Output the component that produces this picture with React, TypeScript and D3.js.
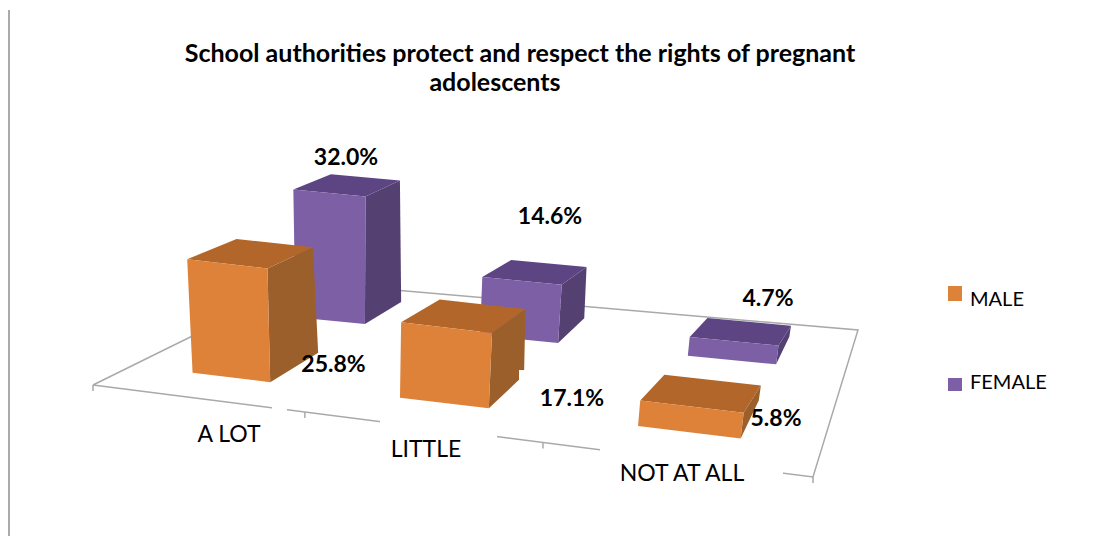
import React from "react";
import * as d3 from "d3";

const categories = ["A LOT", "LITTLE", "NOT AT ALL"];
const seriesNames = ["MALE", "FEMALE"];
const maleValues = [25.8, 17.1, 5.8];
const femaleValues = [32.0, 14.6, 4.7];
const titleLines = [
  { text: "School authorities protect and respect the rights of pregnant", x: 520, y: 62 },
  { text: "adolescents", x: 495, y: 91 },
];

const font = "Lato, 'Open Sans', sans-serif";
type Pt = [number, number];

// Corners of the chart floor: front-left, front-right, back-right, back-left.
const floor: Pt[] = [[93, 385], [813, 477], [858, 330], [302, 282]];

function makeProjection(q: Pt[]) {
  const [[x0, y0], [x1, y1], [x2, y2], [x3, y3]] = q;
  const dx1 = x1 - x2, dx2 = x3 - x2, sx = x0 - x1 + x2 - x3;
  const dy1 = y1 - y2, dy2 = y3 - y2, sy = y0 - y1 + y2 - y3;
  const det = dx1 * dy2 - dx2 * dy1;
  const g = (sx * dy2 - dx2 * sy) / det;
  const h = (dx1 * sy - sx * dy1) / det;
  const a = x1 - x0 + g * x1, b = x3 - x0 + h * x3;
  const d = y1 - y0 + g * y1, e = y3 - y0 + h * y3;
  return (u: number, v: number): Pt => {
    const w = g * u + h * v + 1;
    return [(a * u + b * v + x0) / w, (d * u + e * v + y0) / w];
  };
}

const project = makeProjection(floor);
const uScale = d3.scaleBand<string>().domain(categories).range([0.004, 1.004]).paddingInner(0.61).paddingOuter(0.305);
const vScale = d3.scaleBand<string>().domain(seriesNames).range([0.0175, 1.0175]).paddingInner(0.53).paddingOuter(0.265);
const heightScale = d3.scaleLinear().domain([0, 32]).range([0, 133]);
const depthFactor: Record<string, number> = { MALE: 1.06, FEMALE: 0.96 };
// The lid of a bar is seen at a flatter angle than its footprint.
const lidFlatten = 0.72;
const lidNarrow = 0.95;
const polygon = d3.line<Pt>().curve(d3.curveLinearClosed);

const faceColors: Record<string, { front: string; top: string; side: string }> = {
  MALE: { front: "#dd8239", top: "#b3662a", side: "#9a5f2a" },
  FEMALE: { front: "#7c5fa4", top: "#5d4583", side: "#544172" },
};

function raise([x, y]: Pt, h: number): Pt {
  return [x + (x - 350) * 0.0003 * h, y - h];
}

function lidCorner(frontBase: Pt, backBase: Pt, frontTop: Pt): Pt {
  return [
    frontTop[0] + (backBase[0] - frontBase[0]) * lidNarrow,
    frontTop[1] + (backBase[1] - frontBase[1]) * lidFlatten,
  ];
}

function Bar({ cat, series, value }: { cat: string; series: string; value: number }) {
  const u0 = uScale(cat)!, u1 = u0 + uScale.bandwidth();
  const v0 = vScale(series)!, v1 = v0 + vScale.bandwidth();
  const h = heightScale(value) * depthFactor[series];
  const fl = project(u0, v0), fr = project(u1, v0), br = project(u1, v1), bl = project(u0, v1);
  const tfl = raise(fl, h), tfr = raise(fr, h);
  const tbr = lidCorner(fr, br, tfr), tbl = lidCorner(fl, bl, tfl);
  const c = faceColors[series];
  return (
    <g>
      <path d={polygon([fr, br, tbr, tfr])!} fill={c.side} />
      <path d={polygon([tfl, tfr, tbr, tbl])!} fill={c.top} />
      <path d={polygon([fl, fr, tfr, tfl])!} fill={c.front} />
    </g>
  );
}

const pct = (v: number) => d3.format(".1f")(v) + "%";

const valueLabels: { text: string; x: number; y: number }[] = [
  { text: pct(femaleValues[0]), x: 346, y: 165 },
  { text: pct(maleValues[0]), x: 333.5, y: 372 },
  { text: pct(femaleValues[1]), x: 550, y: 224 },
  { text: pct(maleValues[1]), x: 572, y: 406 },
  { text: pct(femaleValues[2]), x: 768, y: 306 },
  { text: pct(maleValues[2]), x: 776, y: 426 },
];

const axisLabels = [
  { text: categories[0], x: 229, y: 442 },
  { text: categories[1], x: 426, y: 457 },
  { text: categories[2], x: 682, y: 481 },
];

// White label boxes that break the floor edge and clip the neighbouring bar.
const labelBoxes = [
  { x: 272, y: 400, width: 15, height: 30 },
  { x: 380, y: 412, width: 117, height: 50 },
  { x: 519, y: 370, width: 90, height: 45 },
  { x: 600, y: 445, width: 183, height: 50 },
];

const legendItems = [
  { name: seriesNames[0], y: 286, size: 15, color: "#dd8239", textY: 306 },
  { name: seriesNames[1], y: 378, size: 13, color: "#7c5fa4", textY: 389 },
];

const axisColor = "#a9a9a9";
const frontTicks = [0, 0.342, 0.675, 1];

export default function App() {
  const ticks = frontTicks.map((u) => project(u, 0));
  return (
    <svg width={1101} height={536} style={{ position: "absolute", left: 0, top: 0, background: "#fff" }} fontFamily={font}>
      <defs>
        <filter id="soft" x="-5%" y="-5%" width="110%" height="110%">
          <feGaussianBlur stdDeviation="0.7" />
        </filter>
      </defs>
      <line x1={9} y1={10} x2={9} y2={536} stroke="#aaa" strokeWidth={2} />

      <g fill="none" stroke={axisColor} strokeWidth={1.5}>
        <path d={d3.line()([project(0, 0), project(0, 1), project(1, 1), project(1, 0), project(0, 0)])!} />
        {ticks.map(([x, y], i) => (
          <line key={i} x1={x} y1={y} x2={x} y2={y + 6} />
        ))}
      </g>

      <g filter="url(#soft)">
        {seriesNames.slice().reverse().map((s) =>
          categories.map((cat, i) => (
            <Bar key={s + cat} cat={cat} series={s} value={(s === "MALE" ? maleValues : femaleValues)[i]} />
          ))
        )}
      </g>

      {labelBoxes.map((b, i) => (
        <rect key={i} {...b} fill="#fff" />
      ))}

      <g fontSize={23} fill="#000" textAnchor="middle">
        {axisLabels.map((l) => (
          <text key={l.text} x={l.x} y={l.y}>{l.text}</text>
        ))}
      </g>
      <g fontSize={23} fontWeight={700} fill="#000" textAnchor="middle">
        {valueLabels.map((l) => (
          <text key={l.text} x={l.x} y={l.y}>{l.text}</text>
        ))}
      </g>
      <g fontSize={25} fontWeight={700} fill="#000" textAnchor="middle">
        {titleLines.map((t) => (
          <text key={t.text} x={t.x} y={t.y}>{t.text}</text>
        ))}
      </g>
      {legendItems.map((d) => (
        <g key={d.name}>
          <rect x={948} y={d.y} width={14} height={d.size} fill={d.color} />
          <text x={970} y={d.textY} fontSize={20} fill="#000">{d.name}</text>
        </g>
      ))}
    </svg>
  );
}
